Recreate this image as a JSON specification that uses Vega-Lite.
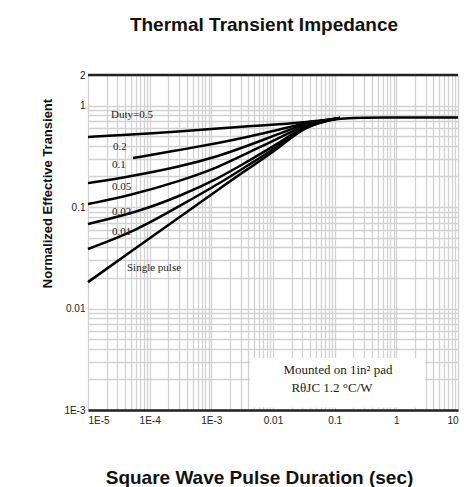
{
  "$schema": "https://vega.github.io/schema/vega-lite/v6.json",
  "autosize": "none",
  "width": 370,
  "height": 335,
  "padding": {"left": 88, "top": 75, "right": 15, "bottom": 77},
  "background": "white",
  "title": {"text": "Thermal Transient Impedance", "font": "Liberation Sans", "fontSize": 19, "fontWeight": "bold", "color": "#111", "anchor": "middle", "dx": -9, "offset": 35},
  "config": {
    "view": {"stroke": null},
    "axis": {"gridColor": "#d2d2d2", "gridWidth": 1.3, "gridOpacity": 1, "ticks": false, "labelFont": "Liberation Sans", "labelFontSize": 10, "labelColor": "#222", "labelOverlap": false, "titleFont": "Liberation Sans", "titleFontWeight": "bold", "titleColor": "#111"}
  },
  "datasets": {
    "curves": [
      {"s": "0.5", "x": 0.00001, "y": 0.49},
      {"s": "0.5", "x": 0.000048, "y": 0.517},
      {"s": "0.5", "x": 0.00031, "y": 0.553},
      {"s": "0.5", "x": 0.00138, "y": 0.595},
      {"s": "0.5", "x": 0.00379, "y": 0.625},
      {"s": "0.5", "x": 0.013, "y": 0.655},
      {"s": "0.5", "x": 0.033, "y": 0.68},
      {"s": "0.5", "x": 0.122, "y": 0.754},
      {"s": "0.5", "x": 0.543, "y": 0.762},
      {"s": "0.5", "x": 10, "y": 0.762},
      {"s": "0.2", "x": 0.0000537, "y": 0.304},
      {"s": "0.2", "x": 0.00031, "y": 0.365},
      {"s": "0.2", "x": 0.00138, "y": 0.43},
      {"s": "0.2", "x": 0.00379, "y": 0.49},
      {"s": "0.2", "x": 0.013, "y": 0.58},
      {"s": "0.2", "x": 0.033, "y": 0.672},
      {"s": "0.2", "x": 0.122, "y": 0.754},
      {"s": "0.1", "x": 0.00001, "y": 0.172},
      {"s": "0.1", "x": 0.000048, "y": 0.2},
      {"s": "0.1", "x": 0.00031, "y": 0.25},
      {"s": "0.1", "x": 0.00138, "y": 0.32},
      {"s": "0.1", "x": 0.00379, "y": 0.4},
      {"s": "0.1", "x": 0.013, "y": 0.53},
      {"s": "0.1", "x": 0.033, "y": 0.665},
      {"s": "0.1", "x": 0.122, "y": 0.754},
      {"s": "0.05", "x": 0.00001, "y": 0.107},
      {"s": "0.05", "x": 0.000048, "y": 0.13},
      {"s": "0.05", "x": 0.00031, "y": 0.18},
      {"s": "0.05", "x": 0.00138, "y": 0.25},
      {"s": "0.05", "x": 0.00379, "y": 0.34},
      {"s": "0.05", "x": 0.013, "y": 0.48},
      {"s": "0.05", "x": 0.033, "y": 0.655},
      {"s": "0.05", "x": 0.122, "y": 0.754},
      {"s": "0.02", "x": 0.00001, "y": 0.0681},
      {"s": "0.02", "x": 0.0000623, "y": 0.089},
      {"s": "0.02", "x": 0.00031, "y": 0.128},
      {"s": "0.02", "x": 0.00138, "y": 0.195},
      {"s": "0.02", "x": 0.00379, "y": 0.28},
      {"s": "0.02", "x": 0.013, "y": 0.43},
      {"s": "0.02", "x": 0.033, "y": 0.645},
      {"s": "0.02", "x": 0.122, "y": 0.754},
      {"s": "0.01", "x": 0.00001, "y": 0.0386},
      {"s": "0.01", "x": 0.0000623, "y": 0.059},
      {"s": "0.01", "x": 0.00031, "y": 0.103},
      {"s": "0.01", "x": 0.00138, "y": 0.172},
      {"s": "0.01", "x": 0.00379, "y": 0.255},
      {"s": "0.01", "x": 0.013, "y": 0.405},
      {"s": "0.01", "x": 0.033, "y": 0.64},
      {"s": "0.01", "x": 0.122, "y": 0.754},
      {"s": "single", "x": 0.00001, "y": 0.0182},
      {"s": "single", "x": 0.000048, "y": 0.036},
      {"s": "single", "x": 0.00031, "y": 0.08},
      {"s": "single", "x": 0.00138, "y": 0.153},
      {"s": "single", "x": 0.00379, "y": 0.235},
      {"s": "single", "x": 0.013, "y": 0.385},
      {"s": "single", "x": 0.033, "y": 0.635},
      {"s": "single", "x": 0.122, "y": 0.754}
    ],
    "labels": [
      {"t": "Duty=0.5", "x": 0.0000236, "y": 0.807},
      {"t": "0.2", "x": 0.0000254, "y": 0.39},
      {"t": "0.1", "x": 0.0000245, "y": 0.26},
      {"t": "0.05", "x": 0.0000245, "y": 0.158},
      {"t": "0.02", "x": 0.0000245, "y": 0.0893},
      {"t": "0.01", "x": 0.0000245, "y": 0.0568},
      {"t": "Single pulse", "x": 0.0000429, "y": 0.0251}
    ],
    "notes": [
      {"t": "Mounted on 1in² pad", "x": 0.113, "y": 0.00248},
      {"t": "RθJC 1.2 °C/W", "x": 0.0905, "y": 0.001647}
    ],
    "box": [{"x": 0.00424, "x2": 2.92, "y": 0.00106, "y2": 0.00325}],
    "top": [{"y": 2}]
  },
  "layer": [
    {
      "data": {"name": "box"},
      "mark": {"type": "rect", "fill": "white", "stroke": null},
      "encoding": {
        "x": {"field": "x", "type": "quantitative", "scale": {"type": "log", "domain": [0.00001, 10], "nice": false},
          "axis": {"orient": "bottom", "values": [0.00001,0.00002,0.00003,0.00004,0.00005,0.00006,0.00007,0.00008,0.00009,0.0001,0.0002,0.0003,0.0004,0.0005,0.0006,0.0007,0.0008,0.0009,0.001,0.002,0.003,0.004,0.005,0.006,0.007,0.008,0.009,0.01,0.02,0.03,0.04,0.05,0.06,0.07,0.08,0.09,0.1,0.2,0.3,0.4,0.5,0.6,0.7,0.8,0.9,1,2,3,4,5,6,7,8,9,10],
            "labelExpr": "datum.value == 0.00001 ? '1E-5' : datum.value == 0.0001 ? '1E-4' : datum.value == 0.001 ? '1E-3' : datum.value == 0.01 ? '0.01' : datum.value == 0.1 ? '0.1' : datum.value == 1 ? '1' : datum.value == 10 ? '10' : ''",
            "labelPadding": 5, "domainColor": "#222", "domainWidth": 2.5,
            "title": "Square Wave Pulse Duration (sec)", "titleFontSize": 19, "titleX": 171, "titleY": 67, "titleBaseline": "middle", "titleAlign": "center"}},
        "x2": {"field": "x2"},
        "y": {"field": "y", "type": "quantitative", "scale": {"type": "log", "domain": [0.001, 2], "nice": false},
          "axis": {"values": [0.001,0.002,0.003,0.004,0.005,0.006,0.007,0.008,0.009,0.01,0.02,0.03,0.04,0.05,0.06,0.07,0.08,0.09,0.1,0.2,0.3,0.4,0.5,0.6,0.7,0.8,0.9,1,2],
            "labelExpr": "datum.value == 0.001 ? '1E-3' : datum.value == 0.01 ? '0.01' : datum.value == 0.1 ? '0.1' : datum.value == 1 ? '1' : datum.value == 2 ? '2' : ''",
            "labelPadding": 3, "domain": false,
            "title": "Normalized Effective Transient", "titleFontSize": 13, "titleX": -41, "titleY": 118, "titleAngle": -90, "titleBaseline": "middle", "titleAlign": "center"}},
        "y2": {"field": "y2"}
      }
    },
    {
      "data": {"name": "top"},
      "mark": {"type": "rule", "color": "#222", "strokeWidth": 2.5},
      "encoding": {"y": {"field": "y", "type": "quantitative"}}
    },
    {
      "data": {"name": "curves"},
      "mark": {"type": "line", "color": "black", "strokeWidth": 2.5, "interpolate": "basis"},
      "encoding": {
        "x": {"field": "x", "type": "quantitative"},
        "y": {"field": "y", "type": "quantitative"},
        "detail": {"field": "s", "type": "nominal"}
      }
    },
    {
      "data": {"name": "labels"},
      "mark": {"type": "text", "align": "left", "baseline": "middle", "font": "Liberation Serif", "fontSize": 11, "color": "#222"},
      "encoding": {
        "x": {"field": "x", "type": "quantitative"},
        "y": {"field": "y", "type": "quantitative"},
        "text": {"field": "t"}
      }
    },
    {
      "data": {"name": "notes"},
      "mark": {"type": "text", "align": "center", "baseline": "middle", "font": "Liberation Serif", "fontSize": 13, "color": "#222"},
      "encoding": {
        "x": {"field": "x", "type": "quantitative"},
        "y": {"field": "y", "type": "quantitative"},
        "text": {"field": "t"}
      }
    }
  ]
}
